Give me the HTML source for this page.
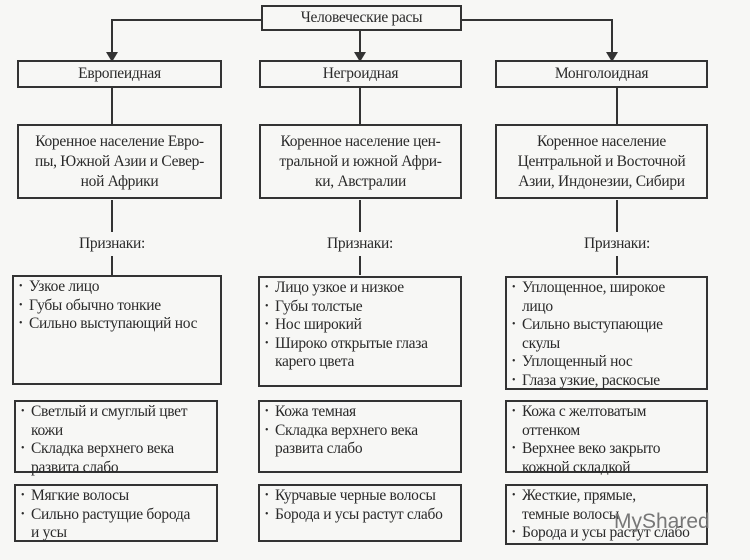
<!DOCTYPE html>
<html><head><meta charset="utf-8">
<style>
body{margin:0;width:750px;height:560px;background:#f7f7f5;overflow:hidden;position:relative;font-family:"Liberation Serif","DejaVu Serif",serif;color:#2a2a2a}
.b{position:absolute;border:2px solid #333;box-sizing:border-box;font-size:15.5px;line-height:18.5px;white-space:nowrap;letter-spacing:-0.3px}
.c{text-align:center;display:flex;align-items:center;justify-content:center}
.l{padding:1px 0 0 5px}
.l div{padding-left:10px;text-indent:-10px}
.l div::before{content:"• ";font-size:10px;display:inline-block;width:10px;text-indent:0;vertical-align:top}
.t{position:absolute;font-size:15.5px;text-align:center;width:120px;letter-spacing:-0.3px}
svg{position:absolute;left:0;top:0}
</style></head><body>
<svg width="750" height="560">
<g stroke="#333" stroke-width="2" fill="none">
<polyline points="261,20 112,20 112,54"/>
<polyline points="462,20 612,20 612,54"/>
<line x1="360" y1="30" x2="360" y2="54"/>
<line x1="112" y1="87" x2="112" y2="124"/>
<line x1="360" y1="87" x2="360" y2="124"/>
<line x1="617" y1="87" x2="617" y2="124"/>
<line x1="112" y1="200" x2="112" y2="232"/>
<line x1="360" y1="200" x2="360" y2="232"/>
<line x1="617" y1="200" x2="617" y2="232"/>
<line x1="112" y1="256" x2="112" y2="275"/>
<line x1="360" y1="256" x2="360" y2="275"/>
<line x1="617" y1="256" x2="617" y2="275"/>
</g>
<g fill="#333">
<polygon points="106,52 118,52 112,62"/>
<polygon points="354,52 366,52 360,62"/>
<polygon points="606,52 618,52 612,62"/>
</g>
</svg>
<div class="b c" style="left:261px;top:5px;width:201px;height:26px">Человеческие расы</div>
<div class="b c" style="left:17px;top:60px;width:205px;height:28px">Европеидная</div>
<div class="b c" style="left:259px;top:60px;width:203px;height:28px">Негроидная</div>
<div class="b c" style="left:495px;top:60px;width:213px;height:28px">Монголоидная</div>
<div class="b c" style="left:17px;top:124px;width:205px;height:75px;line-height:20px">Коренное население Евро-<br>пы, Южной Азии и Север-<br>ной Африки</div>
<div class="b c" style="left:259px;top:124px;width:203px;height:75px;line-height:20px">Коренное население цен-<br>тральной и южной Афри-<br>ки, Австралии</div>
<div class="b c" style="left:495px;top:124px;width:213px;height:75px;line-height:20px">Коренное население<br>Центральной и Восточной<br>Азии, Индонезии, Сибири</div>
<div class="t" style="left:52px;top:235px">Признаки:</div>
<div class="t" style="left:300px;top:235px">Признаки:</div>
<div class="t" style="left:557px;top:235px">Признаки:</div>
<div class="b l" style="left:12px;top:275px;width:210px;height:110px"><div>Узкое лицо</div><div>Губы обычно тонкие</div><div>Сильно выступающий нос</div></div>
<div class="b l" style="left:258px;top:276px;width:204px;height:111px"><div>Лицо узкое и низкое</div><div>Губы толстые</div><div>Нос широкий</div><div>Широко открытые глаза<br>карего цвета</div></div>
<div class="b l" style="left:505px;top:276px;width:203px;height:114px"><div>Уплощенное, широкое<br>лицо</div><div>Сильно выступающие<br>скулы</div><div>Уплощенный нос</div><div>Глаза узкие, раскосые</div></div>
<div class="b l" style="left:14px;top:400px;width:204px;height:73px"><div>Светлый и смуглый цвет<br>кожи</div><div>Складка верхнего века<br>развита слабо</div></div>
<div class="b l" style="left:258px;top:400px;width:204px;height:73px"><div>Кожа темная</div><div>Складка верхнего века<br>развита слабо</div></div>
<div class="b l" style="left:505px;top:400px;width:203px;height:73px"><div>Кожа с желтоватым<br>оттенком</div><div>Верхнее веко закрыто<br>кожной складкой</div></div>
<div class="b l" style="left:14px;top:484px;width:204px;height:58px"><div>Мягкие волосы</div><div>Сильно растущие борода<br>и усы</div></div>
<div class="b l" style="left:258px;top:484px;width:204px;height:58px"><div>Курчавые черные волосы</div><div>Борода и усы растут слабо</div></div>
<div class="b l" style="left:505px;top:484px;width:203px;height:61px"><div>Жесткие, прямые,<br>темные волосы</div><div>Борода и усы растут слабо</div></div>
<div style="position:absolute;left:614px;top:510px;font-family:'Liberation Sans',sans-serif;font-size:21px;color:#777">MyShared</div>
</body></html>
